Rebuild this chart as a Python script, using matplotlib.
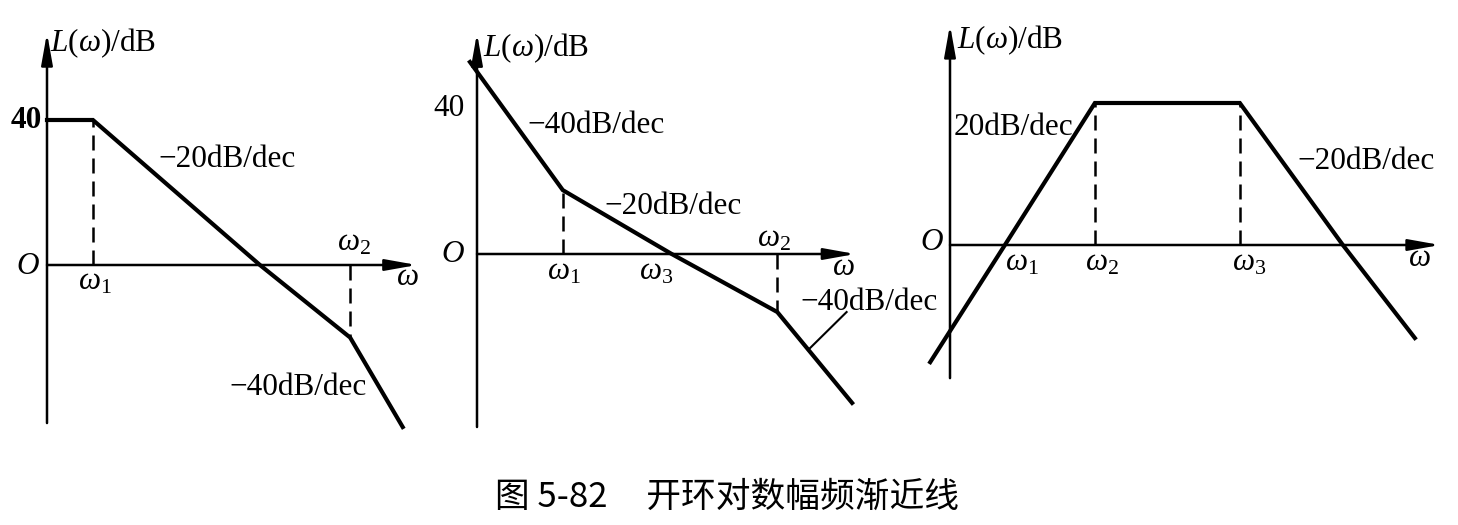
import matplotlib
matplotlib.use('Agg')
import matplotlib.pyplot as plt

plt.rcParams['font.family'] = ['Liberation Serif', 'DejaVu Serif']
plt.rcParams['mathtext.fontset'] = 'custom'
plt.rcParams['mathtext.rm'] = 'Liberation Serif'
plt.rcParams['mathtext.it'] = 'Liberation Serif:italic'

# asymptote data: x in decades from the L axis, y in dB
P1_LOGW = [0.0, 0.55, 2.55, 3.63, 4.26]
P1_DB = [40, 40, 0, -20, -44.7]
P1_BREAKS = [0.55, 3.63]          # omega1, omega2

P2_LOGW = [-0.064, 0.78, 1.77, 2.73, 3.41]
P2_DB = [52.6, 17.5, 0, -15.9, -40.8]
P2_BREAKS = [0.78, 2.73]          # omega1, omega2

P3_LOGW = [-0.44, 1.22, 3.22, 6.44, 8.73, 10.33]
P3_DB = [-33, 0, 40, 40, 0, -26.2]
P3_BREAKS = [3.22, 6.44]          # omega2, omega3

CAPTION = '图 5-82     开环对数幅频渐近线'

W, H = 1458, 525
fig = plt.figure(figsize=(W / 100, H / 100), dpi=100)
fig.patch.set_facecolor('white')

FS = 22.5
LW_CURVE = 3.0
LW_AXIS = 1.8


def panel_axes(x0, y0, sx, sy):
    # full-figure axes whose origin sits at pixel (x0, y0) measured from top-left
    ax = fig.add_axes([0, 0, 1, 1])
    ax.set_axis_off()
    ax.patch.set_alpha(0)
    ax.set_xlim(-x0 / sx, (W - x0) / sx)
    ax.set_ylim((y0 - H) / sy, y0 / sy)
    return ax


def draw_axes(ax, xmax, ymin, ymax):
    arrow = dict(arrowstyle='-|>,head_length=0.95,head_width=0.17',
                 lw=LW_AXIS, color='black', mutation_scale=20,
                 shrinkA=0, shrinkB=0)
    ax.annotate('', xy=(0, ymax), xytext=(0, ymin), arrowprops=arrow)
    ax.annotate('', xy=(xmax, 0), xytext=(0, 0), arrowprops=arrow)


def dashed(ax, x, y):
    ax.plot([x, x], [0, y], color='black', lw=1.8, ls=(0, (6, 3.2)),
            clip_on=False)


def curve(ax, xs, ys):
    ax.plot(xs, ys, color='black', lw=LW_CURVE, solid_joinstyle='miter',
            clip_on=False)


def label(ax, x, y, s, **kw):
    kw.setdefault('ha', 'center')
    ax.text(x, y, s, fontsize=kw.pop('fontsize', FS), va='center', **kw)


# ---- panel 1
ax1 = panel_axes(47, 265, 83.5, 3.625)
draw_axes(ax1, 4.43, -43.6, 64)
curve(ax1, P1_LOGW, P1_DB)
dashed(ax1, P1_BREAKS[0], P1_DB[1])
dashed(ax1, P1_BREAKS[1], P1_DB[3])
label(ax1, 0.04, 61.2, r'$L(\omega)$/dB', ha='left')
label(ax1, -0.06, 40, '40', fontweight='bold', ha='right')
label(ax1, -0.23, -0.5, r'$O$')
label(ax1, 0.57, -4.6, r'$\omega_\mathrm{1}$')
label(ax1, 3.67, 6.0, r'$\omega_\mathrm{2}$')
label(ax1, 4.32, -3.5, r'$\omega$')
label(ax1, 1.33, 29, '\u221220dB/dec', ha='left')
label(ax1, 2.19, -33.9, '\u221240dB/dec', ha='left')

# ---- panel 2
ax2 = panel_axes(477, 254, 110, 3.65)
draw_axes(ax2, 3.44, -47.4, 60.5)
curve(ax2, P2_LOGW, P2_DB)
dashed(ax2, P2_BREAKS[0], P2_DB[1])
dashed(ax2, P2_BREAKS[1], P2_DB[3])
ax2.plot([3.01, 3.36], [-26.3, -15.9], color='black', lw=1.5, clip_on=False)
label(ax2, 0.055, 56.4, r'$L(\omega)$/dB', ha='left')
label(ax2, -0.11, 40, '40', ha='right')
label(ax2, -0.22, 0, r'$O$')
label(ax2, 0.79, -4.8, r'$\omega_\mathrm{1}$')
label(ax2, 1.63, -4.8, r'$\omega_\mathrm{3}$')
label(ax2, 2.70, 4.2, r'$\omega_\mathrm{2}$')
label(ax2, 3.33, -3.8, r'$\omega$')
label(ax2, 0.46, 35.3, '\u221240dB/dec', ha='left')
label(ax2, 1.16, 12.9, '\u221220dB/dec', ha='left')
label(ax2, 2.94, -13.4, '\u221240dB/dec', ha='left')

# ---- panel 3
ax3 = panel_axes(950, 245, 45, 3.55)
draw_axes(ax3, 10.89, -37.5, 62)
curve(ax3, P3_LOGW, P3_DB)
dashed(ax3, P3_BREAKS[0], P3_DB[2])
dashed(ax3, P3_BREAKS[1], P3_DB[3])
label(ax3, 0.16, 57.7, r'$L(\omega)$/dB', ha='left')
label(ax3, 0.07, 33, '20dB/dec', ha='left')
label(ax3, 7.73, 23.4, '\u221220dB/dec', ha='left')
label(ax3, -0.4, 0.6, r'$O$')
label(ax3, 1.6, -5.2, r'$\omega_\mathrm{1}$')
label(ax3, 3.37, -5.2, r'$\omega_\mathrm{2}$')
label(ax3, 6.64, -5.2, r'$\omega_\mathrm{3}$')
label(ax3, 10.44, -3.7, r'$\omega$')

fig.text(727 / W, 1 - 497 / H, CAPTION, fontsize=25,
         family=['Noto Sans CJK SC', 'DejaVu Sans'], ha='center', va='center')

fig.savefig('out.png', dpi=100)
